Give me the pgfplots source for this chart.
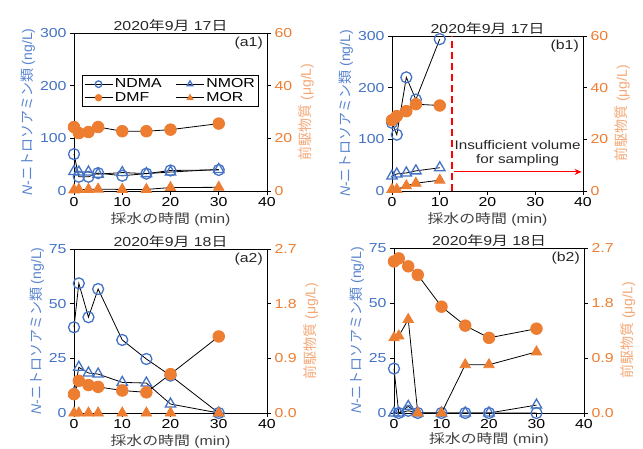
\documentclass[border=0pt]{standalone}
\usepackage{fontspec}
\setmainfont{Liberation Sans}[FakeStretch=1.22]
\newfontfamily\jp{Noto Sans CJK JP}[FakeStretch=1.22]
\newfontfamily\rsans{Liberation Sans}
\newfontfamily\rjp{Noto Sans CJK JP}
\usepackage{pgfplots}
\pgfplotsset{compat=1.18}
\usetikzlibrary{arrows.meta}
\definecolor{cblue}{HTML}{4472C4}
\definecolor{corange}{HTML}{ED7D31}
\definecolor{corangel}{HTML}{F3A877}
\definecolor{cbluel}{HTML}{5A85CF}
\pgfplotsset{
  common/.style={scale only axis, anchor=north west, xmin=0, xmax=40, clip=false,
    tick align=outside, major tick length=4pt,
    every tick/.style={black, line width=0.8pt},
    axis line style={black, line width=0.9pt},
    ticklabel style={font=\fontsize{13}{15}\selectfont},
    /pgf/number format/assume math mode=true},
  leftax/.style={common, xtick={0,10,20,30,40}, xtick pos=left, ytick pos=left,
    yticklabel style={text=cblue}, xticklabel style={text=black, yshift=1pt},
    title style={font=\fontsize{13}{15}\selectfont, text=black!85, yshift=-8pt},
    xlabel style={font=\fontsize{13}{15}\selectfont, text=black!75, yshift=1.5pt},
    xlabel={{\jp 採水の時間} (min)},
    ylabel style={font=\rsans\fontsize{14}{16}\selectfont, text=cbluel, yshift=-2pt},
    ylabel={{\itshape N}-{\rjp ニトロソアミン類} (ng/L)}},
  rightax/.style={common, axis x line=none, axis y line*=right,
    yticklabel style={text=corange},
    ylabel style={font=\rsans\fontsize{14}{16}\selectfont, text=corangel},
    ylabel={{\rjp 前駆物質} (μg/L)}},
  ndma/.style={black, line width=0.8pt, mark=o, mark size=5.5pt, mark options={draw=cblue, line width=1.3pt, solid}},
  nmor/.style={black, line width=0.8pt, mark=triangle, mark size=6pt, mark options={draw=cblue, line width=1.3pt, solid}},
  dmf/.style={black, line width=0.8pt, mark=*, mark size=5.8pt, mark options={draw=corange, fill=corange, solid}},
  mor/.style={black, line width=0.8pt, mark=triangle*, mark size=6pt, mark options={draw=corange, fill=corange, solid}},
  legend image code/.code={\draw[mark size=3.3pt, mark repeat=2, mark phase=2] plot coordinates {(0pt,0pt) (14pt,0pt) (28pt,0pt)};},
}
\tikzset{panel/.style={anchor=north east, font=\fontsize{13}{15}\selectfont, inner sep=4pt, text=black!85}}
\begin{document}
\begin{tikzpicture}
\useasboundingbox (0,0) rectangle (643pt,-448pt);

% ---------- a1 ----------
\begin{axis}[leftax, at={(74pt,-33pt)}, width=193pt, height=158pt,
  ymin=0, ymax=300, ytick={0,100,200,300},
  title={2020{\jp 年}9{\jp 月} 17{\jp 日}}]
\addplot[ndma] coordinates {(0,70)(1,27)(3,27)(5,34)(10,29)(15,33)(20,39)(30,40)};
\addplot[nmor] coordinates {(0,37)(1,36)(3,36)(5,32)(10,35)(15,33)(20,36)(30,41)};
\node[panel] at (rel axis cs:1,1) {(a1)};
\end{axis}
\begin{axis}[rightax, at={(74pt,-33pt)}, width=193pt, height=158pt,
  ymin=0, ymax=60, ytick={0,20,40,60},
  legend columns=2, legend cell align=left,
  legend style={at={(0.5,0.735)}, anchor=north, draw=black, line width=1pt,
    font=\fontsize{13}{13}\selectfont, inner sep=1.5pt, row sep=-1pt,
    /tikz/every even column/.append style={column sep=12pt}}]
\addlegendimage{ndma}\addlegendentry{NDMA}
\addlegendimage{nmor}\addlegendentry{NMOR}
\addplot[dmf] coordinates {(0,24.3)(1,22)(3,22.4)(5,24.3)(10,22.7)(15,22.7)(20,23.3)(30,25.6)};
\addlegendentry{DMF}
\addplot[mor] coordinates {(0,0.4)(1,0.6)(3,0.6)(5,0.7)(10,0.6)(15,0.6)(20,1.3)(30,1.4)};
\addlegendentry{MOR}
\end{axis}

% ---------- b1 ----------
\begin{axis}[leftax, at={(392pt,-36pt)}, width=191pt, height=155pt,
  ymin=0, ymax=300, ytick={0,100,200,300},
  title={2020{\jp 年}9{\jp 月} 17{\jp 日}}]
\addplot[ndma] coordinates {(0,132)(1,109)(3,220)(5,177)(10,294)};
\addplot[nmor] coordinates {(0,29)(1,33)(3,35)(5,39)(10,45)};
\draw[red, line width=2pt, dash pattern=on 7pt off 4pt] (axis cs:12.5,0) -- (axis cs:12.5,300);
\draw[red, line width=1.1pt, -{Stealth[length=7pt,width=6pt]}] (axis cs:13,37) -- (axis cs:39.7,37);
\node[align=center, font=\fontsize{12.5}{14}\selectfont, text=black!85] at (axis cs:26.3,73) {Insufficient volume\\for sampling};
\node[panel] at (rel axis cs:1,1) {(b1)};
\end{axis}
\begin{axis}[rightax, at={(392pt,-36pt)}, width=191pt, height=155pt,
  ymin=0, ymax=60, ytick={0,20,40,60}]
\addplot[dmf] coordinates {(0,27.4)(1,29)(3,30.9)(5,33.6)(10,33.1)};
\addplot[mor] coordinates {(0,0.6)(1,0.6)(3,2)(5,3)(10,4.2)};
\end{axis}

% ---------- a2 ----------
\begin{axis}[leftax, at={(74pt,-249pt)}, width=193pt, height=164pt,
  ymin=0, ymax=75, ytick={0,25,50,75},
  title={2020{\jp 年}9{\jp 月} 18{\jp 日}}]
\addplot[ndma] coordinates {(0,39.2)(1,59.3)(3,43.8)(5,56.7)(10,33.4)(15,24.7)(20,17.1)(30,0)};
\addplot[nmor] coordinates {(0,9)(1,20.9)(3,18.3)(5,17.8)(10,14)(15,13.7)(20,4.1)(30,0)};
\node[panel] at (rel axis cs:1,1) {(a2)};
\end{axis}
\begin{axis}[rightax, at={(74pt,-249pt)}, width=193pt, height=164pt,
  ymin=0, ymax=2.7, ytick={0,0.9,1.8,2.7},
  yticklabel style={/pgf/number format/.cd, fixed, fixed zerofill, precision=1}]
\addplot[dmf] coordinates {(0,0.31)(1,0.53)(3,0.46)(5,0.43)(10,0.37)(15,0.34)(20,0.64)(30,1.26)};
\addplot[mor] coordinates {(0,0)(1,0)(3,0)(5,0)(10,0)(15,0)(20,0)(30,0)};
\end{axis}

% ---------- b2 ----------
\begin{axis}[leftax, at={(394pt,-248pt)}, width=190pt, height=165pt,
  ymin=0, ymax=75, ytick={0,25,50,75},
  xlabel style={yshift=2pt},
  title={2020{\jp 年}9{\jp 月} 18{\jp 日}}]
\addplot[ndma] coordinates {(0,20.2)(1,0)(3,1)(5,0)(10,0)(15,0)(20,0)(30,0)};
\addplot[nmor] coordinates {(0,0)(1,0)(3,3)(5,0)(10,0)(15,0)(20,0)(30,3.6)};
\node[panel] at (rel axis cs:1,1) {(b2)};
\end{axis}
\begin{axis}[rightax, at={(394pt,-248pt)}, width=190pt, height=165pt,
  ymin=0, ymax=2.7, ytick={0,0.9,1.8,2.7},
  yticklabel style={/pgf/number format/.cd, fixed, fixed zerofill, precision=1}]
\addplot[dmf] coordinates {(0,2.48)(1,2.53)(3,2.40)(5,2.26)(10,1.74)(15,1.43)(20,1.23)(30,1.38)};
\addplot[mor] coordinates {(0,1.23)(1,1.26)(3,1.53)(5,0)(10,0)(15,0.79)(20,0.79)(30,1.0)};
\end{axis}
\end{tikzpicture}
\end{document}
